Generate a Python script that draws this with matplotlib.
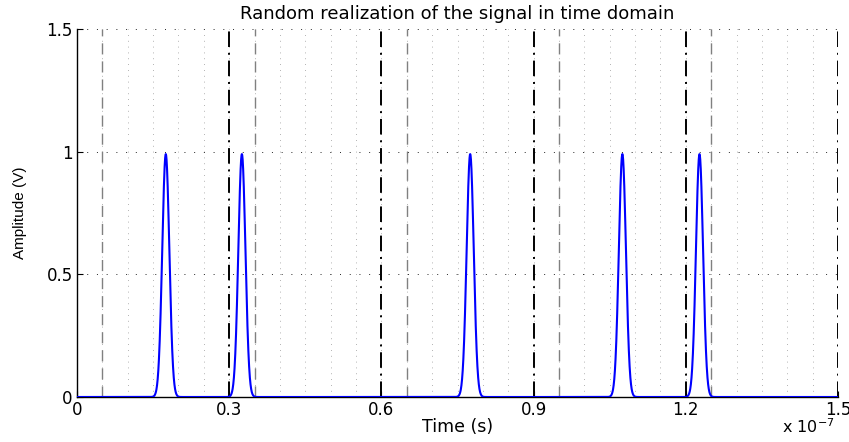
import numpy as np
import matplotlib
matplotlib.use("Agg")
import matplotlib.pyplot as plt
from matplotlib.ticker import FuncFormatter

plt.rcParams['font.family'] = ['DejaVu Sans']

# Data (time in units of 1e-7 s)
pulse_centers = [0.175, 0.325, 0.775, 1.075, 1.227]
pulse_amplitudes = [0.99, 0.99, 0.99, 0.99, 0.99]
pulse_sigma = 0.007
frame_bounds = [0.3, 0.6, 0.9, 1.2, 1.5]
slot_bounds = [0.05, 0.35, 0.65, 0.95, 1.25]
grid_x = [0.05 * k for k in range(1, 30)]
xticks = [0, 0.3, 0.6, 0.9, 1.2, 1.5]
yticks = [0, 0.5, 1, 1.5]
scale = 1e-7

t = np.linspace(0, 1.5, 6001)
sig = np.zeros_like(t)
for c, a in zip(pulse_centers, pulse_amplitudes):
    sig += a * np.exp(-0.5 * ((t - c) / pulse_sigma) ** 2)

fig = plt.figure(figsize=(8.49, 4.42), dpi=100)
ax = fig.add_axes([77/849, 1 - 397/442, (838 - 77)/849, (397 - 29)/442])

for gx in grid_x:
    ax.axvline(gx * scale, color='0.6', ls=(0, (1, 6)), lw=0.6, zorder=1)
for gy in yticks[1:]:
    ax.axhline(gy, color='0.15', ls=(0, (1, 9)), lw=0.7, zorder=1)
for sb in slot_bounds:
    ax.axvline(sb * scale, color='0.5', ls=(0, (8, 5)), lw=1.0, zorder=2)
for fb in frame_bounds:
    ax.axvline(fb * scale, color='black', ls=(0, (8, 3, 1, 3)), lw=1.4, zorder=2)

ax.plot(t * scale, sig, color='#0000ff', lw=1.5, zorder=3)

ax.set_xlim(0, 1.5 * scale)
ax.set_ylim(0, 1.5)
ax.set_xticks([x * scale for x in xticks])
ax.set_yticks(yticks)
ax.xaxis.set_major_formatter(FuncFormatter(lambda v, p: ('%g' % round(v / scale, 3))))
ax.yaxis.set_major_formatter(FuncFormatter(lambda v, p: ('%g' % v)))
ax.tick_params(direction='in', labelsize=12, length=4, width=0.8, pad=3)
ax.spines['top'].set_visible(False)
ax.spines['right'].set_visible(False)
ax.spines['left'].set_linewidth(1.0)
ax.spines['bottom'].set_linewidth(1.0)

ax.set_title('Random realization of the signal in time domain', fontsize=13, pad=7)
ax.set_xlabel('Time (s)', fontsize=12.5, labelpad=-1)
ax.set_ylabel('Amplitude (V)', fontsize=11, labelpad=14, family=['Liberation Sans', 'DejaVu Sans'])
fig.text(782/849, 1 - 433/442, r'x 10$^{-7}$', fontsize=11.5, va='baseline', ha='left')

fig.savefig('out.png', dpi=100)
